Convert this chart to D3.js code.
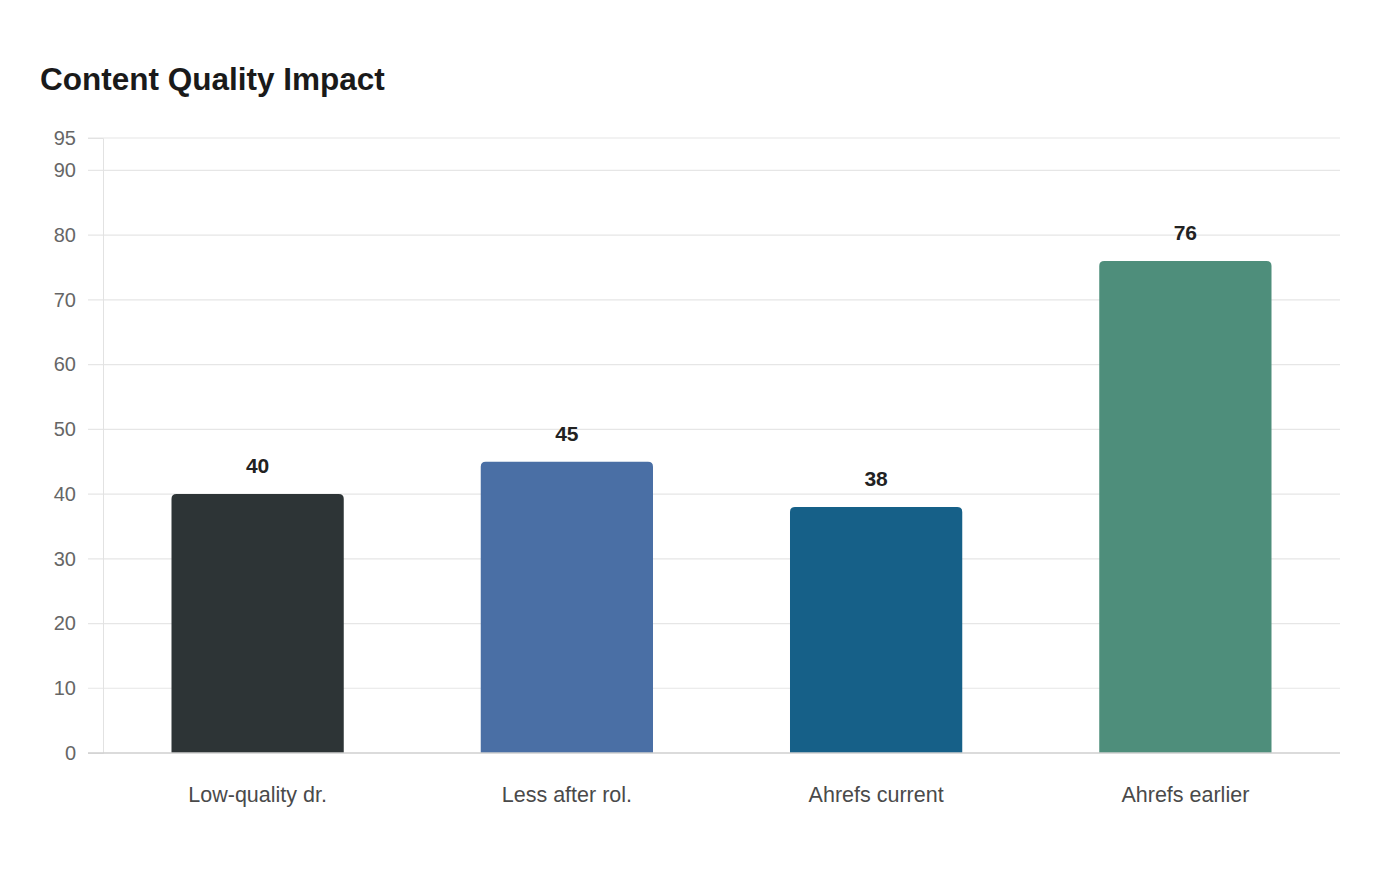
<!DOCTYPE html>
<html>
<head>
<meta charset="utf-8">
<script src="https://cdn.jsdelivr.net/npm/d3@7"></script>
<style>
  body { margin: 0; background: #fff; font-family: "Liberation Sans", Arial, sans-serif; }
</style>
</head>
<body>
<div id="chart"></div>
<script>
// data
const categories = ['Low-quality dr.', 'Less after rol.', 'Ahrefs current', 'Ahrefs earlier'];
const values = [40, 45, 38, 76];
const colors = ['#2d3436', '#4a6fa5', '#166088', '#4e8e7b'];
const yTicks = [0, 10, 20, 30, 40, 50, 60, 70, 80, 90, 95];

const width = 1400, height = 880;
const margin = { top: 138, right: 60, bottom: 127, left: 103 };

const svg = d3.select('#chart')
    .append('svg')
    .attr('width', width)
    .attr('height', height);

svg.append('text')
    .attr('x', 40)
    .attr('y', 90)
    .attr('font-size', 31.5)
    .attr('font-weight', 'bold')
    .attr('fill', '#1a1a1a')
    .text('Content Quality Impact');

const x = d3.scaleBand()
    .domain(categories)
    .range([margin.left, width - margin.right])
    .paddingInner(0.443)
    .paddingOuter(0.2215);

const y = d3.scaleLinear()
    .domain([0, 95])
    .range([height - margin.bottom, margin.top]);

// gridlines
svg.append('g')
    .selectAll('line')
    .data(yTicks.filter(d => d > 0))
    .enter()
    .append('line')
    .attr('x1', margin.left - 15)
    .attr('x2', width - margin.right)
    .attr('y1', d => y(d))
    .attr('y2', d => y(d))
    .attr('stroke', '#e6e6e6')
    .attr('stroke-width', 1.2);

// y axis
const yAxis = svg.append('g')
    .attr('transform', `translate(${margin.left},0)`)
    .call(d3.axisLeft(y).tickValues(yTicks).tickSize(15).tickPadding(12));
yAxis.select('.domain').attr('stroke', '#e2e2e2');
yAxis.selectAll('.tick line').attr('stroke', 'none');
yAxis.selectAll('.tick text')
    .attr('font-size', 20)
    .attr('font-family', '"Liberation Sans", Arial, sans-serif')
    .attr('fill', '#666');

// bars with rounded tops
const r = 5;
svg.append('g')
    .selectAll('path')
    .data(values)
    .enter()
    .append('path')
    .attr('fill', (d, i) => colors[i])
    .attr('d', (d, i) => {
        const x0 = x(categories[i]), w = x.bandwidth();
        const y0 = y(d), y1 = y(0);
        return `M${x0},${y1}V${y0 + r}Q${x0},${y0} ${x0 + r},${y0}H${x0 + w - r}Q${x0 + w},${y0} ${x0 + w},${y0 + r}V${y1}Z`;
    });

// value labels
svg.append('g')
    .selectAll('text')
    .data(values)
    .enter()
    .append('text')
    .attr('x', (d, i) => x(categories[i]) + x.bandwidth() / 2)
    .attr('y', d => y(d) - 21)
    .attr('text-anchor', 'middle')
    .attr('font-size', 21)
    .attr('font-weight', 'bold')
    .attr('fill', '#222')
    .text(d => d);

// x baseline
svg.append('line')
    .attr('x1', margin.left - 15)
    .attr('x2', width - margin.right)
    .attr('y1', y(0))
    .attr('y2', y(0))
    .attr('stroke', '#cfcfcf')
    .attr('stroke-width', 1.5);

// category labels
svg.append('g')
    .selectAll('text')
    .data(categories)
    .enter()
    .append('text')
    .attr('x', d => x(d) + x.bandwidth() / 2)
    .attr('y', 802)
    .attr('text-anchor', 'middle')
    .attr('font-size', 21.5)
    .attr('fill', '#4a4a4a')
    .text(d => d);
</script>
</body>
</html>
